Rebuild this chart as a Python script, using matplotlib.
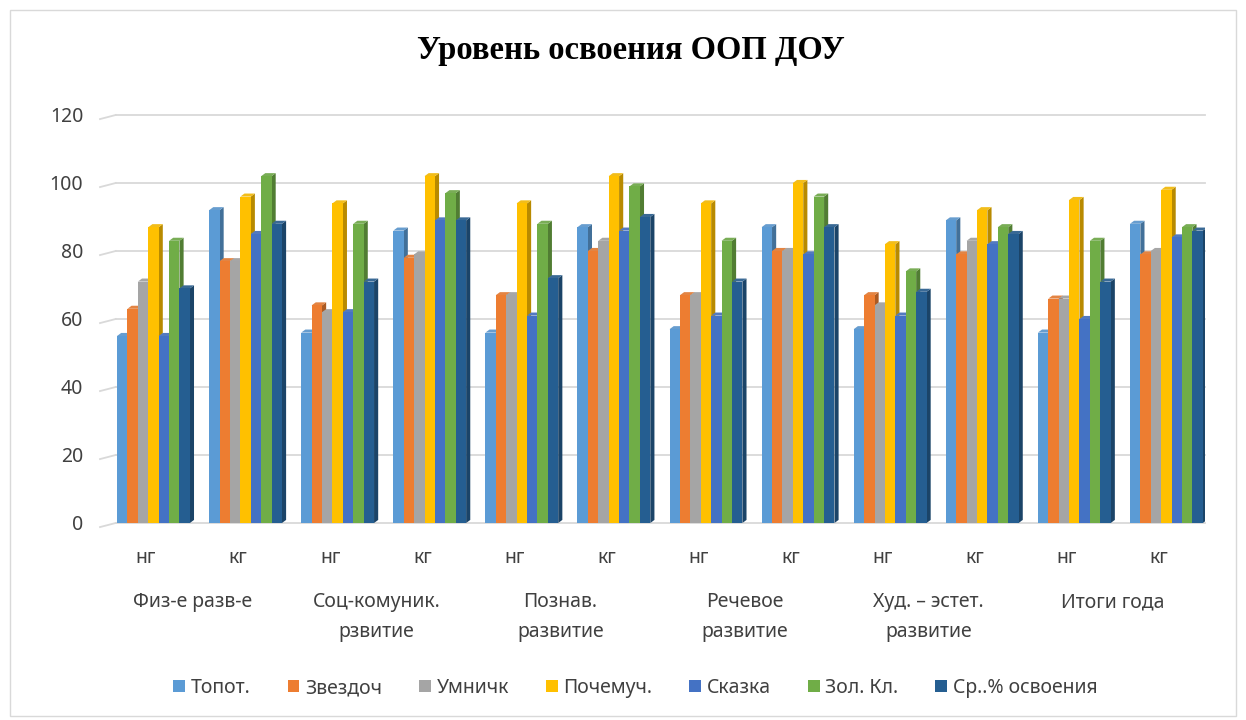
import numpy as np
import matplotlib.pyplot as plt
import matplotlib.colors as mcolors
from matplotlib.patches import Polygon, Rectangle, Patch
import matplotlib.transforms as mtransforms

plt.rcParams['font.family'] = ['Noto Sans', 'DejaVu Sans']

series = ['Топот.', 'Звездоч', 'Умничк', 'Почемуч.', 'Сказка', 'Зол. Кл.', 'Ср..% освоения']
colors = ['#5B9BD5', '#ED7D31', '#A5A5A5', '#FFC000', '#4472C4', '#70AD47', '#255E91']
tick_labels = ['нг', 'кг'] * 6
groups = ['Физ-е разв-е', 'Соц-комуник.\nрзвитие', 'Познав.\nразвитие',
          'Речевое\nразвитие', 'Худ. – эстет.\nразвитие', 'Итоги года']

# rows = categories (нг/кг per group), columns = series
values = np.array([
    [55, 63, 71, 87, 55, 83, 69],
    [92, 77, 77, 96, 85, 102, 88],
    [56, 64, 62, 94, 62, 88, 71],
    [86, 78, 79, 102, 89, 97, 89],
    [56, 67, 67, 94, 61, 88, 72],
    [87, 80, 83, 102, 86, 99, 90],
    [57, 67, 67, 94, 61, 83, 71],
    [87, 80, 80, 100, 79, 96, 87],
    [57, 67, 64, 82, 61, 74, 68],
    [89, 79, 83, 92, 82, 87, 85],
    [56, 66, 66, 95, 60, 83, 71],
    [88, 79, 80, 98, 84, 87, 86],
])

W, H = 1246, 720
fig = plt.figure(figsize=(W / 100, H / 100), dpi=100)
ax = fig.add_axes([100 / W, 1 - 523 / H, 1105 / W, 408 / H])

# outer chart border
fig.patches.append(Rectangle((10 / W, 4 / H), 1226 / W, 706 / H, transform=fig.transFigure,
                             fill=False, edgecolor='#d9d9d9', linewidth=1))

ax.set_xlim(-0.5, 11.5)
ax.set_ylim(0, 120)
for s in ax.spines.values():
    s.set_visible(False)

# gridlines with small 3D slant at the left
for yv in range(0, 121, 20):
    ax.plot([-0.33, 11.5], [yv, yv], color='#d9d9d9', lw=1.3, zorder=0, clip_on=False)
    ax.plot([-0.5, -0.33], [yv - 1.2, yv], color='#d9d9d9', lw=1.3, zorder=0, clip_on=False)

w = 0.113
dx, dy = 0.045, 0.9
for i in range(values.shape[0]):
    for j in range(values.shape[1]):
        v = values[i, j]
        x0 = i - 0.315 + j * w
        c = np.array(mcolors.to_rgb(colors[j]))
        side = c * 0.72
        top = np.clip(c * 0.85 + 0.1, 0, 1)
        z = 2 + j * 0.01
        ax.add_patch(Polygon([(x0 + w, 0), (x0 + w + dx, dy), (x0 + w + dx, v + dy), (x0 + w, v)],
                             closed=True, facecolor=side, edgecolor='none', zorder=z))
        ax.add_patch(Polygon([(x0, v), (x0 + dx, v + dy), (x0 + w + dx, v + dy), (x0 + w, v)],
                             closed=True, facecolor=top, edgecolor='none', zorder=z))
        ax.add_patch(Rectangle((x0, 0), w, v, facecolor=c, edgecolor='none', zorder=z))

ax.set_yticks(range(0, 121, 20))
ax.set_xticks(range(12))
ax.set_xticklabels(tick_labels)
ax.tick_params(axis='both', length=0, labelsize=14, labelcolor='#404040')
ax.tick_params(axis='x', pad=18)
ax.tick_params(axis='y', pad=12)

trans = mtransforms.blended_transform_factory(ax.transData, ax.transAxes)
for k, g in enumerate(groups):
    ax.text(2 * k + 0.5, -0.17, g, transform=trans, ha='center', va='top',
            fontsize=14, color='#404040', linespacing=1.65)

fig.text(0.506, 1 - 50 / H, 'Уровень освоения ООП ДОУ', ha='center', va='center',
         fontsize=23.5, fontweight='bold', family='Liberation Serif', color='black')

handles = [Patch(facecolor=c, edgecolor='none') for c in colors]
fig.legend(handles, series, loc='center', bbox_to_anchor=(0.51, 1 - 688 / H), ncol=7,
           frameon=False, fontsize=14, handlelength=0.6, handleheight=0.6,
           handletextpad=0.3, columnspacing=1.9, labelcolor='#404040')

fig.savefig('out.png', dpi=100)
